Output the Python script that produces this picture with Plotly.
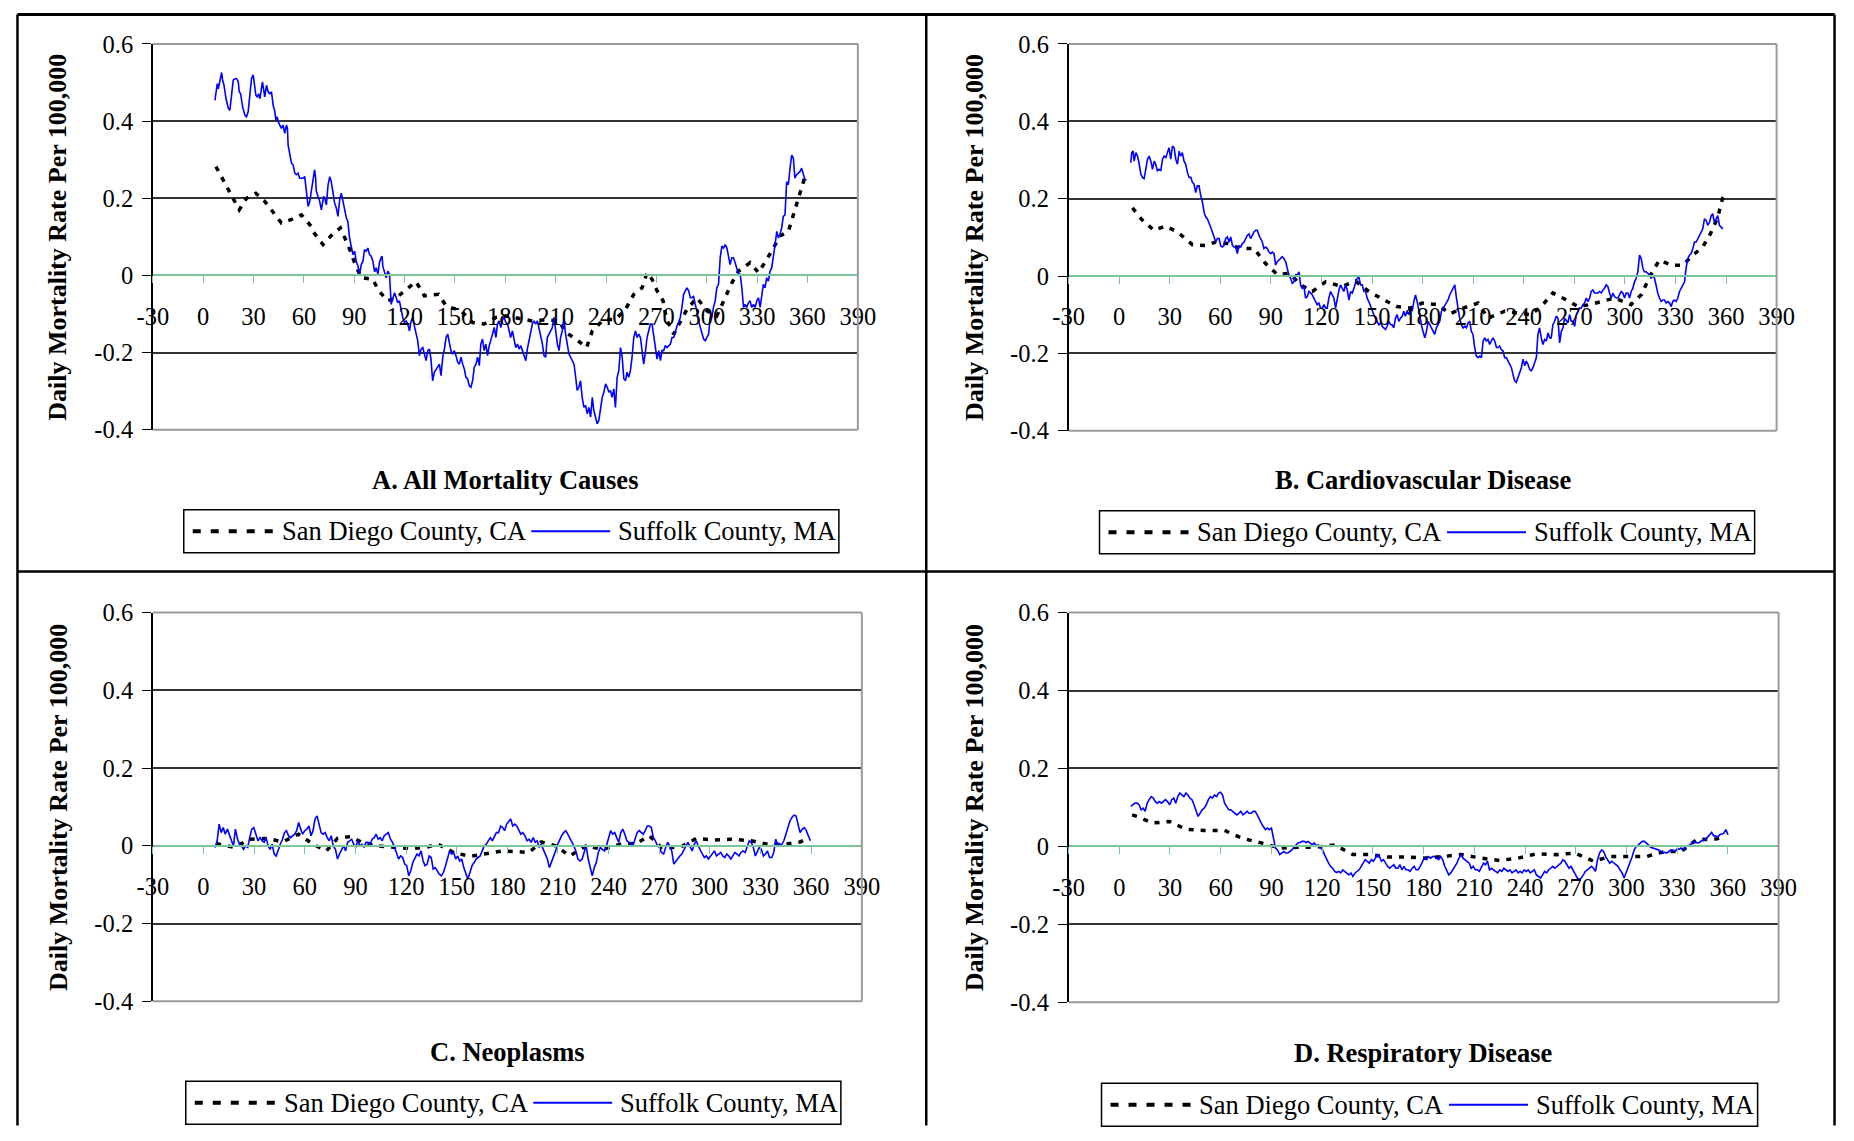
import plotly.graph_objects as go

# ---------------- DATA (day of year, daily mortality rate per 100,000) ----------------
a_sd_day = [7.6, 12, 16, 21.5, 25.8, 31.4, 36.7, 44.7, 46.6, 52.6, 58.5, 64.4, 65.4, 71.4, 76.9, 81.7, 86.2, 90.2,
            94.2, 101, 104.6, 110, 115, 120, 126.8, 131.8, 140.3, 144.7, 153.6, 160.5, 167.4, 174.4, 180.3, 185,
            191, 196, 204, 212, 216, 222, 228.4, 231.8, 238.7, 245.6, 251.6, 256.5, 261.5, 264.4, 267.4, 270.4,
            274, 276, 280.3, 284.2, 288.2, 294.1, 300.1, 306, 310, 315, 318.9, 325.8, 330.8, 334.7, 338.7, 343.6,
            348.6, 351.6, 355.5, 358.5]
a_sd_val = [0.282, 0.248, 0.213, 0.170, 0.200, 0.213, 0.192, 0.149, 0.136, 0.145, 0.157, 0.127, 0.114, 0.080, 0.106,
            0.123, 0.080, 0.033, -0.006, -0.010, -0.040, -0.066, -0.058, -0.040, -0.016, -0.053, -0.049, -0.079,
            -0.092, -0.122, -0.126, -0.109, -0.105, -0.109, -0.114, -0.118, -0.115, -0.118, -0.148, -0.165, -0.187,
            -0.144, -0.114, -0.114, -0.088, -0.049, -0.032, 0.007, -0.010, -0.040, -0.066, -0.114, -0.152, -0.118,
            -0.088, -0.058, -0.092, -0.105, -0.066, -0.019, 0.011, 0.033, 0.007, 0.033, 0.063, 0.102, 0.114, 0.157,
            0.209, 0.256]

a_sf_day = [7.0, 8.4, 9.0, 10.0, 11.0, 11.6, 12.4, 13.6, 15.0, 15.9, 16.9, 17.9, 18.9, 19.9, 20.9, 21.5, 22.3, 23.5,
            24.9, 25.8, 26.8, 27.8, 28.8, 29.8, 30.4, 31.4, 32.2, 33.0, 33.8, 34.8, 35.3, 36.1, 36.7, 37.7, 38.7,
            39.7, 40.7, 41.7, 42.7, 43.3, 44.1, 44.7, 45.6, 46.6, 47.6, 48.6, 49.6, 50.2, 50.6, 51.6, 52.6, 53.6,
            54.6, 55.5, 56.5, 57.5, 59.5, 60.5, 61.5, 62.5, 63.5, 64.4, 65.4, 66.4, 67.0, 67.4, 68.4, 69.4, 70.4,
            71.0, 71.8, 72.4, 73.4, 74.4, 75.4, 76.3, 77.3, 78.3, 79.3, 80.3, 81.3, 82.3, 83.3, 84.3, 85.3, 86.2,
            87.2, 88.2, 89.2, 90.2, 91.2, 92.2, 93.2, 94.2, 95.2, 96.1, 97.1, 98.1, 99.1, 100.1, 101.1, 102.1,
            103.1, 104.1, 105.0, 106.0, 106.6, 107.0, 108.0, 109.0, 110.0, 111.0, 112.0, 113.0, 114.0, 115.0,
            115.9, 116.9, 117.9, 118.9, 119.9, 120.9, 121.9, 122.9, 123.9, 124.9, 125.8, 126.8, 127.8, 128.8,
            129.8, 130.8, 131.8, 132.8, 133.8, 134.8, 135.7, 136.7, 137.7, 138.7, 139.7, 140.7, 141.7, 142.7,
            143.7, 144.7, 145.7, 146.6, 147.6, 148.6, 149.6, 150.6, 151.6, 152.6, 153.6, 154.6, 155.6, 156.5,
            157.5, 158.5, 159.5, 160.5, 161.5, 162.5, 163.5, 164.5, 165.4, 166.4, 167.4, 168.4, 169.4, 170.4,
            171.4, 172.4, 173.4, 174.4, 175.3, 176.3, 177.3, 178.3, 179.3, 180.3, 181.3, 182.3, 183.2, 184.2,
            185.2, 186.2, 187.2, 188.2, 189.2, 190.2, 191.2, 192.2, 193.1, 194.1, 195.1, 196.1, 197.1, 198.1,
            199.1, 200.1, 201.1, 202.1, 203.0, 204.0, 205.0, 206.0, 207.0, 208.0, 209.0, 210.0, 211.0, 212.0,
            212.9, 213.9, 214.9, 215.9, 216.9, 217.9, 218.9, 219.9, 220.9, 221.9, 222.8, 223.8, 224.8, 225.8,
            226.8, 227.8, 228.8, 229.8, 230.8, 231.8, 232.7, 233.7, 234.7, 235.7, 236.7, 237.7, 238.7, 239.7,
            240.7, 241.7, 242.6, 243.6, 244.6, 245.6, 246.6, 247.6, 248.6, 249.6, 250.6, 251.6, 252.5, 253.5,
            254.5, 255.5, 256.5, 257.5, 258.5, 259.5, 260.5, 261.5, 262.4, 263.4, 264.4, 265.4, 266.4, 267.4,
            268.4, 269.4, 270.4, 271.4, 272.4, 273.3, 274.3, 275.3, 276.3, 277.3, 278.3, 279.3, 280.3, 281.3,
            282.2, 283.2, 284.2, 285.2, 286.2, 287.2, 288.2, 289.2, 290.2, 291.2, 292.1, 293.1, 294.1, 295.1,
            296.1, 297.1, 298.1, 299.1, 300.1, 301.1, 302.0, 303.0, 304.0, 305.0, 306.0, 307.0, 308.0, 309.0,
            310.0, 311.0, 312.0, 312.9, 313.9, 314.9, 315.9, 316.9, 317.9, 318.9, 319.9, 320.9, 321.9, 322.8,
            323.8, 324.8, 325.8, 326.8, 327.8, 328.8, 329.8, 330.8, 331.8, 332.8, 333.7, 334.7, 335.7, 336.7,
            337.7, 338.7, 339.7, 340.7, 341.7, 342.7, 343.6, 344.6, 345.6, 346.6, 347.6, 348.6, 349.6, 350.6,
            351.6, 352.5, 353.5, 354.5, 355.5, 356.5, 357.5, 358.5, 359.5]
a_sf_val = [0.454, 0.497, 0.484, 0.510, 0.526, 0.506, 0.493, 0.458, 0.433, 0.428, 0.467, 0.506, 0.510, 0.510, 0.502,
            0.476, 0.471, 0.437, 0.415, 0.411, 0.424, 0.467, 0.510, 0.520, 0.502, 0.467, 0.463, 0.471, 0.458,
            0.489, 0.502, 0.480, 0.463, 0.493, 0.476, 0.471, 0.476, 0.441, 0.424, 0.403, 0.411, 0.398, 0.390,
            0.381, 0.390, 0.368, 0.390, 0.381, 0.338, 0.312, 0.291, 0.286, 0.265, 0.261, 0.265, 0.252, 0.252,
            0.256, 0.218, 0.179, 0.192, 0.218, 0.243, 0.274, 0.252, 0.218, 0.205, 0.192, 0.170, 0.183, 0.205,
            0.200, 0.183, 0.235, 0.256, 0.243, 0.209, 0.188, 0.175, 0.153, 0.196, 0.213, 0.192, 0.166, 0.149,
            0.140, 0.097, 0.076, 0.054, 0.063, 0.037, 0.024, 0.003, 0.028, 0.037, 0.067, 0.063, 0.071, 0.054,
            0.050, 0.037, 0.009, 0.020, 0.003, 0.033, 0.046, 0.050, 0.024, 0.011, -0.006, 0.011, 0.003, -0.075,
            -0.058, -0.045, -0.058, -0.071, -0.066, -0.088, -0.109, -0.122, -0.118, -0.126, -0.144, -0.118,
            -0.109, -0.131, -0.152, -0.169, -0.208, -0.191, -0.187, -0.208, -0.221, -0.195, -0.191, -0.217,
            -0.273, -0.251, -0.243, -0.238, -0.230, -0.260, -0.212, -0.191, -0.161, -0.152, -0.174, -0.195,
            -0.204, -0.195, -0.208, -0.225, -0.230, -0.212, -0.230, -0.243, -0.264, -0.268, -0.286, -0.290,
            -0.273, -0.238, -0.230, -0.212, -0.234, -0.178, -0.165, -0.195, -0.178, -0.208, -0.182, -0.169,
            -0.152, -0.135, -0.161, -0.126, -0.118, -0.135, -0.114, -0.109, -0.122, -0.126, -0.144, -0.161,
            -0.144, -0.169, -0.187, -0.178, -0.191, -0.182, -0.195, -0.212, -0.221, -0.191, -0.169, -0.144,
            -0.126, -0.118, -0.126, -0.118, -0.139, -0.152, -0.178, -0.208, -0.212, -0.161, -0.152, -0.144,
            -0.135, -0.109, -0.152, -0.178, -0.195, -0.161, -0.144, -0.109, -0.152, -0.178, -0.204, -0.212,
            -0.221, -0.230, -0.264, -0.298, -0.290, -0.273, -0.316, -0.342, -0.337, -0.359, -0.342, -0.367,
            -0.316, -0.350, -0.367, -0.385, -0.376, -0.350, -0.316, -0.303, -0.281, -0.290, -0.303, -0.298,
            -0.316, -0.294, -0.342, -0.264, -0.247, -0.187, -0.212, -0.268, -0.273, -0.251, -0.264, -0.247,
            -0.212, -0.161, -0.144, -0.161, -0.152, -0.161, -0.195, -0.230, -0.200, -0.161, -0.144, -0.126,
            -0.126, -0.152, -0.187, -0.217, -0.195, -0.221, -0.195, -0.195, -0.182, -0.187, -0.182, -0.178,
            -0.161, -0.161, -0.148, -0.131, -0.122, -0.109, -0.083, -0.049, -0.040, -0.032, -0.040, -0.058,
            -0.058, -0.053, -0.075, -0.092, -0.118, -0.135, -0.152, -0.165, -0.169, -0.161, -0.152, -0.109,
            -0.109, -0.083, -0.066, -0.032, -0.023, 0.046, 0.076, 0.071, 0.080, 0.071, 0.054, 0.028, 0.046,
            0.046, 0.033, 0.020, 0.003, 0.003, -0.032, -0.083, -0.075, -0.083, -0.071, -0.066, -0.083, -0.075,
            -0.083, -0.066, -0.058, -0.083, -0.045, -0.023, -0.032, -0.006, -0.015, 0.011, 0.020, 0.046, 0.080,
            0.114, 0.097, 0.106, 0.123, 0.153, 0.157, 0.243, 0.235, 0.278, 0.312, 0.304, 0.252, 0.261, 0.265,
            0.269, 0.278, 0.261, 0.248, 0.248]

b_sd_day = [7.9, 13.4, 20.8, 27.3, 34.6, 43.5, 51, 57.3, 64.2, 72.1, 80, 86.9, 93.8, 100.7, 108.6, 114.6, 122.5,
            132.3, 140.2, 148.1, 158, 164.9, 172.8, 179.7, 189.2, 196.1, 204, 212.9, 218.8, 228.7, 236.6, 244.5,
            251.4, 257.3, 267.2, 272.1, 279.1, 286, 293.9, 303.7, 310, 314.6, 320.5, 327.5, 334.4, 339.3, 346.2,
            350.7, 355.1, 358.1, 359.5]
b_sd_val = [0.176, 0.146, 0.118, 0.129, 0.114, 0.081, 0.079, 0.088, 0.084, 0.071, 0.071, 0.032, 0.004, 0.007,
            -0.025, -0.040, -0.015, -0.027, -0.013, -0.040, -0.064, -0.079, -0.083, -0.070, -0.074, -0.098,
            -0.083, -0.070, -0.109, -0.091, -0.096, -0.100, -0.074, -0.044, -0.066, -0.079, -0.074, -0.066,
            -0.057, -0.074, -0.047, -0.002, 0.041, 0.028, 0.028, 0.050, 0.075, 0.109, 0.152, 0.203, 0.215]

b_sf_day = [6.9, 7.5, 8.3, 8.9, 9.9, 10.9, 11.9, 12.9, 13.8, 14.8, 15.8, 16.8, 17.8, 18.8, 19.8, 20.8, 21.7, 22.7,
            23.7, 24.7, 25.7, 26.7, 27.7, 28.6, 29.6, 30.6, 31.6, 32.6, 33.6, 34.6, 35.6, 36.5, 37.5, 38.5, 39.5,
            40.5, 41.5, 42.5, 43.5, 44.4, 45.4, 46.4, 47.4, 48.4, 49.4, 50.4, 51.4, 52.3, 53.3, 54.3, 55.3, 56.3,
            57.3, 58.3, 59.3, 60.2, 61.2, 62.2, 63.2, 64.2, 65.2, 66.2, 67.2, 68.1, 69.1, 70.1, 71.1, 72.1, 73.1,
            74.1, 75.1, 76.0, 77.0, 78.0, 79.0, 80.0, 81.0, 82.0, 83.0, 83.9, 84.9, 85.9, 86.9, 87.9, 88.9, 89.9,
            90.9, 91.9, 92.8, 93.8, 94.8, 95.8, 96.8, 97.8, 98.8, 99.7, 100.7, 101.7, 102.7, 103.7, 104.7, 105.7,
            106.7, 107.6, 108.6, 109.6, 110.6, 111.6, 112.6, 113.6, 114.6, 115.5, 116.5, 117.5, 118.5, 119.5,
            120.5, 121.5, 122.5, 123.4, 124.4, 125.4, 126.4, 127.4, 128.4, 129.4, 130.4, 131.3, 132.3, 133.3,
            134.3, 135.3, 136.3, 137.3, 138.3, 139.2, 140.2, 141.2, 142.2, 143.2, 144.2, 145.2, 146.2, 147.1,
            148.1, 149.1, 150.1, 151.1, 152.1, 153.1, 154.0, 155.0, 156.0, 157.0, 158.0, 159.0, 160.0, 161.0,
            161.9, 162.9, 163.9, 164.9, 165.9, 166.9, 167.9, 168.9, 169.8, 170.8, 171.8, 172.8, 173.8, 174.8,
            175.8, 176.8, 177.7, 178.7, 179.7, 181.3, 182.3, 183.3, 184.3, 185.3, 186.2, 187.2, 188.2, 189.2,
            190.2, 191.2, 192.2, 193.2, 194.1, 195.1, 196.1, 197.1, 198.1, 199.1, 200.1, 201.0, 202.0, 203.0,
            204.0, 205.0, 206.0, 207.0, 208.0, 208.9, 209.9, 210.9, 211.9, 212.9, 213.9, 214.9, 215.9, 216.9,
            217.8, 218.8, 219.8, 220.8, 221.8, 222.8, 223.8, 224.8, 225.7, 226.7, 227.7, 228.7, 229.7, 230.7,
            231.7, 232.7, 233.6, 234.6, 235.6, 236.6, 237.6, 238.6, 239.6, 240.6, 241.5, 242.5, 243.5, 244.5,
            245.5, 246.5, 247.5, 248.4, 249.4, 250.4, 251.4, 252.4, 253.4, 254.4, 255.4, 256.3, 257.3, 258.3,
            259.3, 260.3, 261.3, 262.3, 263.3, 264.2, 265.2, 266.2, 267.2, 268.2, 269.2, 270.2, 271.2, 272.1,
            273.1, 274.1, 275.1, 276.1, 277.1, 278.1, 279.1, 280.0, 281.0, 282.0, 283.0, 284.0, 285.0, 286.0,
            287.0, 287.9, 288.9, 289.9, 290.9, 291.9, 292.9, 293.9, 294.9, 295.8, 296.8, 297.8, 298.8, 299.8,
            300.8, 301.8, 302.8, 303.7, 304.7, 305.7, 306.7, 307.7, 308.7, 309.7, 310.7, 311.6, 312.6, 313.6,
            314.6, 315.6, 316.6, 317.6, 318.6, 319.5, 320.5, 321.5, 322.5, 323.5, 324.5, 325.5, 326.5, 327.5,
            328.4, 329.4, 330.4, 331.4, 332.4, 333.4, 334.4, 335.4, 336.3, 337.3, 338.3, 339.3, 340.3, 341.3,
            342.3, 343.3, 344.2, 345.2, 346.2, 347.2, 348.2, 349.2, 350.2, 351.2, 352.1, 353.1, 354.1, 355.1,
            356.1, 357.1, 358.1]
b_sf_val = [0.293, 0.319, 0.323, 0.297, 0.319, 0.310, 0.289, 0.263, 0.255, 0.252, 0.276, 0.302, 0.310, 0.297,
            0.276, 0.297, 0.289, 0.272, 0.276, 0.272, 0.302, 0.310, 0.306, 0.319, 0.332, 0.302, 0.336, 0.332,
            0.302, 0.289, 0.323, 0.310, 0.319, 0.297, 0.289, 0.268, 0.255, 0.255, 0.242, 0.238, 0.216, 0.233,
            0.233, 0.208, 0.191, 0.165, 0.152, 0.148, 0.139, 0.126, 0.114, 0.101, 0.088, 0.097, 0.097, 0.079,
            0.075, 0.079, 0.097, 0.101, 0.088, 0.101, 0.079, 0.075, 0.075, 0.058, 0.079, 0.075, 0.084, 0.088,
            0.097, 0.105, 0.109, 0.097, 0.105, 0.114, 0.118, 0.118, 0.105, 0.097, 0.088, 0.071, 0.075, 0.071,
            0.062, 0.058, 0.062, 0.058, 0.028, 0.037, 0.041, 0.045, 0.050, 0.045, 0.037, 0.020, 0.003, -0.006,
            -0.019, -0.015, 0.003, 0.003, 0.011, -0.023, -0.032, -0.027, -0.057, -0.053, -0.040, -0.044, -0.049,
            -0.057, -0.066, -0.074, -0.070, -0.083, -0.083, -0.074, -0.083, -0.083, -0.057, -0.040, -0.049,
            -0.057, -0.083, -0.053, -0.036, -0.023, -0.032, -0.040, -0.023, -0.036, -0.062, -0.040, -0.044,
            -0.032, -0.015, -0.006, -0.002, -0.023, -0.023, -0.040, -0.040, -0.057, -0.066, -0.079, -0.091,
            -0.100, -0.109, -0.117, -0.126, -0.121, -0.130, -0.134, -0.138, -0.130, -0.117, -0.126, -0.126,
            -0.134, -0.109, -0.100, -0.117, -0.109, -0.104, -0.091, -0.104, -0.091, -0.100, -0.083, -0.091,
            -0.066, -0.049, -0.066, -0.091, -0.109, -0.134, -0.160, -0.143, -0.117, -0.126, -0.134, -0.143,
            -0.151, -0.134, -0.126, -0.117, -0.091, -0.083, -0.074, -0.066, -0.062, -0.049, -0.040, -0.032,
            -0.023, -0.057, -0.083, -0.109, -0.126, -0.134, -0.130, -0.134, -0.121, -0.117, -0.143, -0.151,
            -0.185, -0.207, -0.211, -0.207, -0.211, -0.168, -0.160, -0.168, -0.164, -0.177, -0.168, -0.160,
            -0.168, -0.185, -0.185, -0.181, -0.190, -0.194, -0.211, -0.211, -0.220, -0.228, -0.237, -0.254,
            -0.271, -0.275, -0.262, -0.254, -0.237, -0.215, -0.232, -0.220, -0.228, -0.241, -0.245, -0.237,
            -0.224, -0.211, -0.151, -0.134, -0.160, -0.177, -0.164, -0.168, -0.147, -0.160, -0.160, -0.126,
            -0.117, -0.104, -0.109, -0.173, -0.143, -0.134, -0.109, -0.117, -0.121, -0.100, -0.117, -0.117,
            -0.130, -0.100, -0.091, -0.083, -0.083, -0.074, -0.070, -0.057, -0.066, -0.057, -0.040, -0.036,
            -0.044, -0.044, -0.044, -0.040, -0.044, -0.036, -0.032, -0.023, -0.027, -0.044, -0.057, -0.044,
            -0.053, -0.057, -0.057, -0.049, -0.040, -0.044, -0.057, -0.044, -0.044, -0.057, -0.040, -0.032,
            -0.015, -0.006, 0.011, 0.054, 0.045, 0.020, 0.011, 0.011, 0.007, 0.003, -0.006, 0.003, -0.006,
            -0.032, -0.044, -0.057, -0.066, -0.062, -0.062, -0.070, -0.066, -0.070, -0.079, -0.066, -0.062,
            -0.066, -0.057, -0.040, -0.032, -0.027, -0.015, 0.020, 0.045, 0.054, 0.058, 0.071, 0.088, 0.088,
            0.097, 0.105, 0.114, 0.122, 0.148, 0.144, 0.131, 0.139, 0.156, 0.161, 0.139, 0.148, 0.156, 0.131,
            0.126, 0.122]

c_sd_day = [7.6, 9.3, 18.3, 27.4, 38.3, 46.8, 56.4, 64.9, 72.8, 79.4, 87.3, 93.8, 102.3, 112, 122.8, 131.3, 139,
            148.2, 157.8, 166.3, 177.2, 185.6, 192.9, 200.1, 208.6, 217, 226.7, 236.3, 247.2, 256.9, 264.1, 271.3,
            282.2, 291.9, 302.7, 312.4, 324.5, 334.1, 343.8, 353.4, 356]
c_sd_val = [0.007, 0.004, -0.004, 0.017, 0.019, 0.010, 0.030, 0.004, -0.013, 0.019, 0.024, 0.009, 0.000, -0.004,
            -0.007, -0.004, 0.004, -0.017, -0.027, -0.021, -0.013, -0.015, -0.017, 0.010, 0.000, -0.026, 0.000,
            -0.009, 0.004, 0.007, 0.026, -0.004, -0.004, 0.019, 0.015, 0.017, 0.013, 0.004, 0.004, 0.010, 0.015]

c_sf_day = [6.9, 8.1, 9.3, 10.5, 11.7, 12.9, 14.2, 15.4, 16.6, 17.8, 18.9, 20.2, 21.4, 22.6, 23.8, 25.0, 26.2, 27.4,
            28.6, 29.8, 31.1, 32.3, 33.5, 34.7, 35.9, 37.1, 38.3, 39.5, 40.7, 41.9, 43.1, 44.3, 45.5, 46.8, 48.0,
            49.2, 50.4, 51.6, 52.8, 54.0, 55.2, 56.4, 57.6, 58.8, 60.0, 61.2, 62.5, 63.7, 64.9, 66.1, 67.3, 68.5,
            69.7, 70.9, 72.1, 73.3, 74.5, 75.7, 76.9, 78.2, 79.4, 80.6, 81.8, 83.0, 84.2, 85.4, 86.6, 87.8, 89.0,
            90.2, 91.4, 92.6, 93.8, 95.1, 96.3, 97.5, 98.7, 99.9, 101.1, 102.3, 103.5, 104.7, 105.9, 107.1,
            108.3, 109.5, 110.8, 112.0, 113.2, 114.4, 115.6, 116.8, 118.0, 119.2, 120.4, 121.6, 122.8, 124.0,
            125.2, 126.5, 127.7, 128.9, 130.1, 131.3, 132.5, 133.7, 134.9, 136.1, 137.3, 138.5, 139.7, 140.9,
            142.1, 143.4, 144.6, 145.8, 147.0, 148.2, 149.4, 150.6, 151.8, 153.0, 154.2, 155.4, 156.6, 157.8,
            159.1, 160.3, 161.5, 162.7, 163.9, 165.1, 166.3, 167.5, 168.7, 169.9, 171.1, 172.3, 173.5, 174.8,
            176.0, 177.2, 178.4, 179.6, 180.8, 182.0, 183.2, 184.4, 185.6, 186.8, 188.0, 189.2, 190.4, 191.7,
            192.9, 194.1, 195.3, 196.5, 197.7, 198.9, 200.1, 201.3, 202.5, 203.7, 204.9, 206.1, 207.4, 208.6,
            209.8, 211.0, 212.2, 213.4, 214.6, 215.8, 217.0, 218.2, 219.4, 220.6, 221.8, 223.1, 224.3, 225.5,
            226.7, 227.9, 229.1, 230.3, 231.5, 232.7, 233.9, 235.1, 236.3, 237.5, 238.7, 239.9, 241.2, 242.4,
            243.6, 244.8, 246.0, 247.2, 248.4, 249.6, 250.8, 252.0, 253.2, 254.4, 255.6, 256.9, 258.1, 259.3,
            260.5, 261.7, 262.9, 264.1, 265.3, 266.5, 267.7, 268.9, 270.1, 271.3, 272.6, 273.8, 275.0, 276.2,
            277.4, 278.6, 279.8, 281.0, 282.2, 283.4, 284.6, 285.8, 287.0, 288.3, 289.5, 290.7, 291.9, 293.1,
            294.3, 295.5, 296.7, 297.9, 299.1, 300.3, 301.5, 302.7, 303.9, 305.2, 306.4, 307.6, 308.8, 310.0,
            311.2, 312.4, 313.6, 314.8, 316.0, 317.2, 318.4, 319.6, 320.9, 322.1, 323.3, 324.5, 325.7, 326.9,
            328.1, 329.3, 330.5, 331.7, 332.9, 334.1, 335.3, 336.6, 337.8, 339.0, 340.2, 341.4, 342.6, 343.8,
            345.0, 346.2, 347.4, 348.6, 349.8, 351.0, 352.2, 353.4, 354.7, 355.9, 357.1, 358.3, 359.5]
c_sf_val = [-0.004, 0.013, 0.056, 0.034, 0.047, 0.030, 0.043, 0.026, 0.013, 0.000, 0.043, 0.017, 0.004, 0.000,
            -0.009, 0.000, -0.004, 0.021, 0.043, 0.047, 0.030, 0.013, 0.021, 0.013, 0.009, 0.021, 0.000, -0.009,
            0.004, -0.021, -0.026, -0.009, 0.004, 0.017, 0.034, 0.039, 0.026, 0.021, 0.026, 0.030, 0.039, 0.060,
            0.043, 0.030, 0.039, 0.043, 0.051, 0.026, 0.039, 0.069, 0.077, 0.051, 0.034, 0.030, 0.034, 0.021,
            0.013, 0.026, 0.000, -0.009, -0.034, -0.021, -0.009, 0.000, -0.013, 0.009, 0.013, 0.017, 0.004,
            -0.004, 0.013, 0.000, 0.004, -0.004, 0.009, 0.009, 0.004, 0.017, 0.021, 0.030, 0.017, 0.021, 0.013,
            0.026, 0.030, 0.034, 0.017, 0.009, -0.004, -0.021, -0.034, -0.026, -0.030, -0.047, -0.051, -0.077,
            -0.064, -0.043, -0.030, -0.021, -0.026, -0.013, -0.039, -0.051, -0.047, -0.026, -0.030, -0.060,
            -0.056, -0.064, -0.073, -0.077, -0.069, -0.051, -0.034, -0.013, -0.021, -0.017, -0.034, -0.026,
            -0.039, -0.034, -0.056, -0.069, -0.086, -0.069, -0.051, -0.043, -0.034, -0.030, -0.026, -0.013,
            0.000, 0.004, 0.013, 0.021, 0.013, 0.026, 0.034, 0.034, 0.051, 0.047, 0.039, 0.056, 0.064, 0.069,
            0.051, 0.056, 0.051, 0.039, 0.030, 0.034, 0.026, 0.013, 0.017, 0.009, 0.021, 0.009, 0.013, -0.004,
            0.004, -0.009, -0.021, -0.034, -0.056, -0.043, -0.030, -0.013, 0.004, 0.017, 0.026, 0.034, 0.039,
            0.030, 0.021, 0.009, 0.000, -0.013, -0.034, -0.039, -0.034, -0.017, 0.000, -0.034, -0.060, -0.077,
            -0.056, -0.043, -0.017, -0.004, -0.009, -0.013, 0.000, 0.021, 0.039, 0.030, 0.034, 0.021, 0.009,
            0.034, 0.043, 0.030, 0.013, 0.009, 0.004, 0.000, 0.017, 0.034, 0.039, 0.034, 0.030, 0.039, 0.051,
            0.051, 0.047, 0.021, 0.013, 0.000, -0.004, -0.017, -0.021, -0.004, 0.009, 0.000, -0.013, -0.047,
            -0.039, -0.034, -0.026, -0.021, -0.009, 0.000, 0.009, -0.004, -0.013, 0.004, 0.013, 0.000, -0.013,
            -0.021, -0.030, -0.026, -0.034, -0.026, -0.021, -0.013, -0.026, -0.021, -0.017, -0.026, -0.030,
            -0.021, -0.026, -0.034, -0.026, -0.017, -0.021, -0.026, -0.017, -0.013, -0.017, 0.000, 0.013, 0.009,
            -0.004, -0.026, -0.013, -0.004, -0.009, -0.026, -0.021, -0.013, -0.030, -0.030, -0.017, 0.017, 0.000,
            0.004, 0.004, 0.013, 0.030, 0.047, 0.064, 0.073, 0.079, 0.077, 0.051, 0.034, 0.043, 0.047, 0.039,
            0.026, 0.013]

d_sd_day = [7.6, 10.5, 19.6, 29.8, 39.4, 50.2, 62.3, 72.7, 84, 94.9, 105.7, 116.6, 127.4, 138.2, 147.9, 158.7,
            169.6, 180.4, 191.3, 202.1, 214.2, 225, 235.9, 246.7, 258.8, 269.6, 280.5, 290.1, 301.7, 311.8, 322.7,
            332.3, 342, 350.4, 355.2]
d_sd_val = [0.081, 0.077, 0.060, 0.064, 0.044, 0.041, 0.041, 0.021, 0.009, -0.004, -0.002, -0.002, 0.004, -0.021,
            -0.021, -0.027, -0.027, -0.030, -0.026, -0.021, -0.030, -0.036, -0.030, -0.019, -0.021, -0.017, -0.038,
            -0.026, -0.026, -0.026, -0.013, -0.013, 0.019, 0.017, 0.021]

d_sf_day = [6.8, 8.1, 9.3, 10.5, 11.7, 12.9, 14.1, 15.3, 16.5, 17.7, 18.9, 20.1, 21.3, 22.5, 23.7, 24.9, 26.1, 27.3,
            28.5, 29.8, 31.0, 32.2, 33.4, 34.6, 35.8, 37.0, 38.2, 39.4, 40.6, 41.8, 43.0, 44.2, 45.4, 46.6, 47.8,
            49.0, 50.2, 51.5, 52.7, 53.9, 55.1, 56.3, 57.5, 58.7, 59.9, 61.1, 62.3, 63.5, 64.7, 65.9, 67.1, 68.3,
            69.5, 70.7, 71.9, 73.2, 74.4, 75.6, 76.8, 78.0, 79.2, 80.4, 81.6, 82.8, 84.0, 85.2, 86.4, 87.6, 88.8,
            90.0, 91.2, 92.4, 93.6, 94.9, 96.1, 97.3, 98.5, 99.7, 100.9, 102.1, 103.3, 104.5, 105.7, 106.9, 108.1,
            109.3, 110.5, 111.7, 112.9, 114.1, 115.3, 116.6, 117.8, 119.0, 120.2, 121.4, 122.6, 123.8, 125.0,
            126.2, 127.4, 128.6, 129.8, 131.0, 132.2, 133.4, 134.6, 135.8, 137.0, 138.2, 139.5, 140.7, 141.9,
            143.1, 144.3, 145.5, 146.7, 147.9, 149.1, 150.3, 151.5, 152.7, 153.9, 155.1, 156.3, 157.5, 158.7,
            159.9, 161.2, 162.4, 163.6, 164.8, 166.0, 167.2, 168.4, 169.6, 170.8, 172.0, 173.2, 174.4, 175.6,
            176.8, 178.0, 179.2, 180.4, 181.6, 182.9, 184.1, 185.3, 186.5, 187.7, 188.9, 190.1, 191.3, 192.5,
            193.7, 194.9, 196.1, 197.3, 198.5, 199.7, 200.9, 202.1, 203.3, 204.6, 205.8, 207.0, 208.2, 209.4,
            210.6, 211.8, 213.0, 214.2, 215.4, 216.6, 217.8, 219.0, 220.2, 221.4, 222.6, 223.8, 225.0, 226.3,
            227.5, 228.7, 229.9, 231.1, 232.3, 233.5, 234.7, 235.9, 237.1, 238.3, 239.5, 240.7, 241.9, 243.1,
            244.3, 245.5, 246.7, 248.0, 249.2, 250.4, 251.6, 252.8, 254.0, 255.2, 256.4, 257.6, 258.8, 260.0,
            261.2, 262.4, 263.6, 264.8, 266.0, 267.2, 268.4, 269.6, 270.9, 272.1, 273.3, 274.5, 275.7, 276.9,
            278.1, 279.3, 280.5, 281.7, 282.9, 284.1, 285.3, 286.5, 287.7, 288.9, 290.1, 291.3, 292.6, 293.8,
            295.0, 296.2, 297.4, 298.6, 299.8, 301.0, 302.2, 303.4, 304.6, 305.8, 307.0, 308.2, 309.4, 310.6,
            311.8, 313.0, 314.3, 315.5, 316.7, 317.9, 319.1, 320.3, 321.5, 322.7, 323.9, 325.1, 326.3, 327.5,
            328.7, 329.9, 331.1, 332.3, 333.5, 334.8, 336.0, 337.2, 338.4, 339.6, 340.8, 342.0, 343.2, 344.4,
            345.6, 346.8, 348.0, 349.2, 350.4, 351.6, 352.8, 354.0, 355.2, 356.4, 357.6, 358.8, 360.1]
d_sf_val = [0.103, 0.107, 0.111, 0.111, 0.107, 0.094, 0.098, 0.090, 0.111, 0.120, 0.128, 0.124, 0.115, 0.111,
            0.115, 0.111, 0.115, 0.120, 0.115, 0.107, 0.120, 0.124, 0.111, 0.128, 0.137, 0.132, 0.128, 0.137,
            0.132, 0.124, 0.120, 0.107, 0.090, 0.077, 0.085, 0.094, 0.098, 0.107, 0.120, 0.128, 0.124, 0.132,
            0.128, 0.137, 0.139, 0.132, 0.111, 0.103, 0.094, 0.094, 0.090, 0.085, 0.081, 0.085, 0.090, 0.081,
            0.085, 0.090, 0.085, 0.085, 0.090, 0.090, 0.081, 0.068, 0.060, 0.051, 0.043, 0.047, 0.043, 0.047,
            0.017, -0.004, -0.009, -0.021, -0.017, -0.013, -0.017, -0.017, -0.013, -0.009, -0.002, 0.004, 0.009,
            0.010, 0.013, 0.013, 0.010, 0.013, 0.009, 0.004, 0.009, 0.002, 0.004, -0.004, -0.009, -0.021, -0.034,
            -0.043, -0.051, -0.056, -0.064, -0.067, -0.064, -0.068, -0.060, -0.064, -0.068, -0.073, -0.068,
            -0.077, -0.068, -0.064, -0.060, -0.051, -0.043, -0.034, -0.038, -0.043, -0.034, -0.038, -0.030,
            -0.021, -0.026, -0.038, -0.034, -0.043, -0.051, -0.056, -0.051, -0.047, -0.056, -0.056, -0.047,
            -0.060, -0.051, -0.060, -0.060, -0.064, -0.056, -0.051, -0.060, -0.060, -0.051, -0.038, -0.030,
            -0.034, -0.026, -0.030, -0.026, -0.026, -0.030, -0.034, -0.026, -0.034, -0.051, -0.064, -0.073,
            -0.068, -0.060, -0.051, -0.043, -0.030, -0.021, -0.030, -0.034, -0.038, -0.043, -0.056, -0.051,
            -0.060, -0.060, -0.064, -0.051, -0.043, -0.047, -0.038, -0.060, -0.056, -0.060, -0.064, -0.068,
            -0.060, -0.064, -0.056, -0.060, -0.064, -0.060, -0.068, -0.064, -0.060, -0.068, -0.064, -0.068,
            -0.060, -0.064, -0.060, -0.068, -0.064, -0.060, -0.073, -0.077, -0.081, -0.073, -0.064, -0.068,
            -0.060, -0.056, -0.051, -0.056, -0.051, -0.047, -0.043, -0.034, -0.038, -0.047, -0.056, -0.051,
            -0.060, -0.068, -0.081, -0.085, -0.081, -0.073, -0.064, -0.060, -0.056, -0.051, -0.056, -0.064,
            -0.034, -0.017, -0.009, -0.013, -0.026, -0.034, -0.043, -0.038, -0.043, -0.047, -0.051, -0.060,
            -0.068, -0.081, -0.068, -0.051, -0.038, -0.026, -0.009, 0.000, 0.004, 0.009, 0.013, 0.013, 0.009,
            0.004, -0.002, -0.004, -0.004, -0.007, -0.009, -0.013, -0.017, -0.015, -0.017, -0.013, -0.009,
            -0.010, -0.013, -0.007, -0.007, -0.004, -0.009, -0.002, 0.002, 0.002, 0.009, 0.013, 0.010, 0.009,
            0.010, 0.015, 0.015, 0.019, 0.024, 0.030, 0.036, 0.027, 0.027, 0.024, 0.030, 0.032, 0.034, 0.043,
            0.030]

panel_titles = ["A. All Mortality Causes", "B. Cardiovascular Disease", "C. Neoplasms", "D. Respiratory Disease"]
series_names = ["San Diego County, CA", "Suffolk County, MA"]
x_ticks = list(range(-30, 391, 30))
y_ticks = [-0.4, -0.2, 0, 0.2, 0.4, 0.6]
y_tick_text = ["-0.4", "-0.2", "0", "0.2", "0.4", "0.6"]
y_title = "Daily Mortality Rate Per 100,000"

# ---------------- LAYOUT (pixel geometry of the page) ----------------
W, H = 1854, 1141
FONT = "Liberation Serif, Times New Roman, serif"
GREEN = "#7cc49a"

# the photographed page comes out slightly reduced around its centre; positions
# below are the intended picture positions and are mapped back onto the page
SX, BX = 0.983, 14.0
SY, BY = 0.977, 13.0
FS = 1.0 / 0.98  # font / width compensation


def page_x(x):
    return (x - BX) / SX


def page_y(y):
    return (y - BY) / SY


def px(x):
    return page_x(x) / W


def py(y):
    return 1 - page_y(y) / H


def fs(v):
    return round(v * FS, 1)


# plot boxes: left, right, top, bottom ; y-title x ; title y ; legend box (l, r, t, b)
panels = [
    dict(box=(151, 857, 44, 430), ytx=56, ty=480, leg=(182, 838, 510, 553),
         sd=(a_sd_day, a_sd_val), sf=(a_sf_day, a_sf_val)),
    dict(box=(1068, 1777, 44, 431), ytx=974, ty=480, leg=(1099, 1755, 511, 554),
         sd=(b_sd_day, b_sd_val), sf=(b_sf_day, b_sf_val)),
    dict(box=(151, 861, 613, 1002), ytx=57, ty=1053, leg=(184, 840, 1082, 1125),
         sd=(c_sd_day, c_sd_val), sf=(c_sf_day, c_sf_val)),
    dict(box=(1068, 1779, 613, 1003), ytx=974, ty=1054, leg=(1101, 1758, 1084, 1127),
         sd=(d_sd_day, d_sd_val), sf=(d_sf_day, d_sf_val)),
]

fig = go.Figure()
shapes = []
annotations = []
layout_axes = {}

for i, p in enumerate(panels, start=1):
    l, r, t, b = p["box"]
    xa = "x" if i == 1 else f"x{i}"
    ya = "y" if i == 1 else f"y{i}"
    zero_y = t + 0.6 * (b - t)

    fig.add_trace(go.Scatter(x=p["sd"][0], y=p["sd"][1], mode="lines", name=series_names[0],
                             line=dict(color="black", width=3.5, dash="5px,7px"),
                             xaxis=xa, yaxis=ya, showlegend=False))
    fig.add_trace(go.Scatter(x=p["sf"][0], y=p["sf"][1], mode="lines", name=series_names[1],
                             line=dict(color="#0000ff", width=1.6),
                             xaxis=xa, yaxis=ya, showlegend=False))

    xkey = "xaxis" if i == 1 else f"xaxis{i}"
    ykey = "yaxis" if i == 1 else f"yaxis{i}"
    layout_axes[xkey] = dict(
        domain=[px(l), px(r)], range=[-30, 390], anchor="free", position=py(zero_y),
        tickmode="array", tickvals=x_ticks, ticktext=[str(v) for v in x_ticks],
        showgrid=False, zeroline=False, showline=True, linecolor=GREEN, linewidth=2,
        ticks="outside", ticklen=7, tickwidth=1.3, tickcolor=GREEN,
        tickfont=dict(family=FONT, size=fs(24), color="black"), ticklabelstandoff=12,
    )
    layout_axes[ykey] = dict(
        domain=[py(b), py(t)], range=[-0.4, 0.6], anchor=xa,
        tickmode="array", tickvals=y_ticks, ticktext=y_tick_text,
        showgrid=True, gridcolor="#333333", gridwidth=1.5,
        zeroline=True, zerolinecolor=GREEN, zerolinewidth=2,
        showline=True, linecolor="black", linewidth=1.5,
        ticks="outside", ticklen=9, tickwidth=1.3, tickcolor="black",
        tickfont=dict(family=FONT, size=fs(24), color="black"), ticklabelstandoff=4,
    )

    # plot-area frame (top, right, bottom) in gray
    for (x0, y0, x1, y1) in [(l, t, r, t), (r, t, r, b), (l, b, r, b)]:
        shapes.append(dict(type="line", xref="paper", yref="paper", x0=px(x0), y0=py(y0), x1=px(x1), y1=py(y1),
                           line=dict(color="#9a9a9a", width=2), layer="above"))

    # y-axis title
    annotations.append(dict(text=f"<b>{y_title}</b>", x=px(p["ytx"]), y=py((t + b) / 2), xref="paper",
                            yref="paper", textangle=-90, showarrow=False, xanchor="center", yanchor="middle",
                            font=dict(family=FONT, size=fs(25.5), color="black")))
    # panel title
    annotations.append(dict(text=f"<b>{panel_titles[i - 1]}</b>", x=px((l + r) / 2), y=py(p["ty"]),
                            xref="paper", yref="paper", showarrow=False, xanchor="center", yanchor="middle",
                            font=dict(family=FONT, size=fs(26), color="black")))

    # legend box
    ll, lr, lt, lb = p["leg"]
    lc = (lt + lb) / 2
    shapes.append(dict(type="rect", xref="paper", yref="paper", x0=px(ll), x1=px(lr), y0=py(lb), y1=py(lt),
                       line=dict(color="black", width=1.5), fillcolor="white"))
    shapes.append(dict(type="line", xref="paper", yref="paper", x0=px(ll + 9), x1=px(ll + 96), y0=py(lc),
                       y1=py(lc), line=dict(color="black", width=4, dash="8px,10px")))
    shapes.append(dict(type="line", xref="paper", yref="paper", x0=px(ll + 348), x1=px(ll + 427), y0=py(lc),
                       y1=py(lc), line=dict(color="#0000ff", width=2)))
    annotations.append(dict(text=series_names[0], x=px(ll + 96), y=py(lc), xref="paper", yref="paper",
                            showarrow=False, xanchor="left", yanchor="middle",
                            font=dict(family=FONT, size=fs(26), color="black")))
    annotations.append(dict(text=series_names[1], x=px(ll + 433), y=py(lc), xref="paper", yref="paper",
                            showarrow=False, xanchor="left", yanchor="middle",
                            font=dict(family=FONT, size=fs(26), color="black")))

# outer page frame (edges clamped to the page)
def clamp_x(x):
    return min(max(page_x(x), 1.5), W - 1.5) / W


def clamp_y(y):
    return 1 - min(max(page_y(y), 1.5), H - 1.5) / H


frame_lines = [
    (9, 4, 1844, 4, 3),
    (9, 4, 9, 1141, 2.5),
    (925.5, 4, 925.5, 1141, 2.5),
    (1844, 4, 1844, 1141, 2.5),
    (9, 572, 1844, 572, 2.5),
]
for (x0, y0, x1, y1, w) in frame_lines:
    shapes.append(dict(type="line", xref="paper", yref="paper", x0=clamp_x(x0), y0=clamp_y(y0),
                       x1=clamp_x(x1), y1=clamp_y(y1), line=dict(color="black", width=w)))

fig.update_layout(
    width=W, height=H, margin=dict(l=0, r=0, t=0, b=0),
    paper_bgcolor="white", plot_bgcolor="white",
    showlegend=False, shapes=shapes, annotations=annotations,
    font=dict(family=FONT, color="black"),
    **layout_axes,
)

fig.write_html(
    "out.html",
    config={"displayModeBar": False},
    post_script="document.body.style.margin='0';document.body.style.padding='0';"
                "document.body.style.overflow='hidden';document.documentElement.style.overflow='hidden';",
)
